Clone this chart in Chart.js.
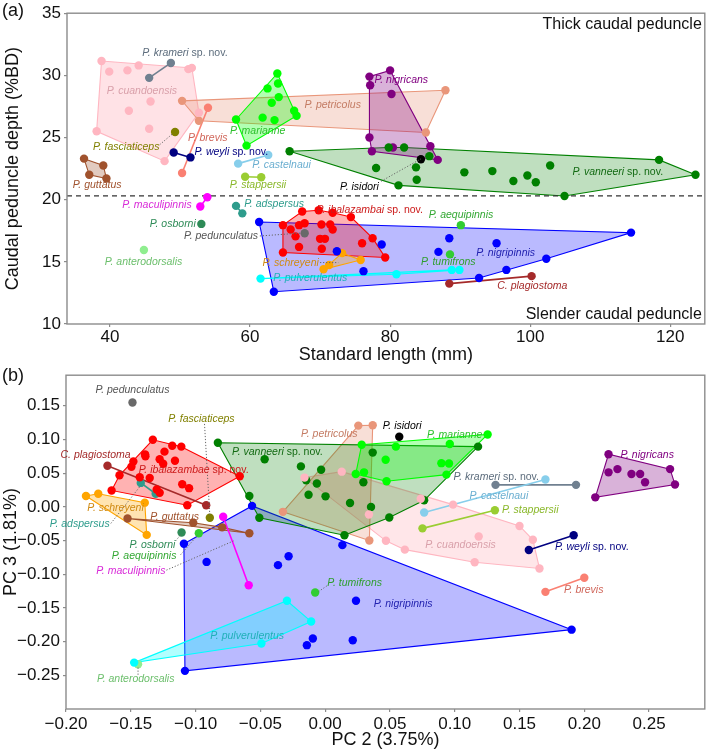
<!DOCTYPE html>
<html>
<head>
<meta charset="utf-8">
<script src="https://cdn.jsdelivr.net/npm/chart.js@4.4.0/dist/chart.umd.min.js"></script>
<style>
  body { margin: 0; background: #fff; width: 709px; height: 751px; position: relative; overflow: hidden; font-family: "Liberation Sans", Arial, sans-serif; }
  .panel { position: absolute; left: 0; width: 709px; }
  #wrapA { top: 0; height: 368px; }
  #wrapB { top: 362px; height: 389px; }
  .tag { position: absolute; left: 2px; font-size: 18px; color: #111; }
</style>
</head>
<body>
<div class="panel" id="wrapA"><canvas id="chartA"></canvas></div>
<div class="panel" id="wrapB"><canvas id="chartB"></canvas></div>
<div class="tag" style="top:0px">(a)</div>
<div class="tag" style="top:365px">(b)</div>
<script>
  // ---- panel (a): standard length (mm) vs caudal peduncle depth (%BD)
  const SL_TICKS = [40, 60, 80, 100, 120];
  const DEPTH_TICKS = [10, 15, 20, 25, 30, 35];
  const DEPTH_SPLIT = 20.3;

  const A_krameri = [[45.6, 29.8], [48.7, 31.0]];
  const A_cuandoensis = [[38.8, 31.15], [39.9, 30.3], [42.5, 30.4], [44.1, 30.8], [51.2, 30.5], [51.7, 30.6], [45.8, 27.9], [42.7, 27.15], [52.7, 27.0], [45.6, 25.7], [38.1, 25.5], [47.8, 23.1]];
  const A_petricolus = [[50.3, 27.95], [52.7, 26.35], [87.9, 28.8], [85.1, 25.4]];
  const A_brevis = [[54.0, 27.4], [50.3, 22.15]];
  const A_fasciaticeps = [[49.3, 25.45]];
  const A_weyli = [[49.1, 23.8], [51.5, 23.4]];
  const A_castelnaui = [[58.3, 22.9], [62.6, 23.6]];
  const A_marianne = [[63.9, 30.15], [62.5, 28.95], [64.0, 29.35], [64.1, 28.25], [63.1, 27.8], [61.8, 26.6], [63.5, 26.4], [66.3, 27.15], [66.65, 26.75], [58.0, 26.45], [59.5, 24.35]];
  const A_nigricans = [[80.0, 30.4], [77.05, 29.9], [77.15, 29.2], [80.2, 28.5], [77.05, 25.0], [77.4, 23.9], [80.4, 24.2], [85.75, 24.3], [86.8, 23.2]];
  const A_isidori = [[84.4, 23.25]];
  const A_vanneeri = [[65.65, 23.9], [79.8, 24.2], [82.0, 24.2], [85.6, 23.5], [78.0, 22.55], [83.7, 22.6], [83.8, 21.6], [81.2, 21.15], [90.6, 22.2], [94.6, 22.3], [97.6, 21.5], [99.6, 21.95], [100.8, 21.4], [102.85, 22.75], [104.9, 20.3], [118.4, 23.2], [123.6, 22.0]];
  const A_guttatus = [[36.3, 23.3], [39.05, 22.75], [37.05, 22.0], [39.5, 21.7]];
  const A_stappersii = [[59.3, 21.85], [61.6, 21.8]];
  const A_maculipinnis = [[53.9, 20.2], [52.9, 19.45]];
  const A_adspersus = [[58.0, 19.5], [58.9, 18.9]];
  const A_osborni = [[53.05, 18.05]];
  const A_pedunculatus = [[67.8, 17.3]];
  const A_anterodorsalis = [[44.85, 15.95]];
  const A_ibalazambai = [[67.45, 19.05], [69.8, 19.15], [71.8, 18.95], [74.4, 18.6], [64.7, 17.95], [65.8, 17.6], [67.0, 17.95], [67.8, 18.1], [70.2, 18.0], [71.45, 18.0], [71.8, 17.6], [66.5, 17.05], [70.0, 16.85], [70.7, 16.85], [67.0, 16.2], [70.25, 16.05], [64.7, 15.75], [76.0, 16.5], [77.5, 16.9], [79.3, 15.35]];
  const A_nigripinnis = [[61.3, 18.2], [63.4, 12.6], [72.4, 15.85], [76.2, 14.25], [78.8, 16.4], [88.45, 16.9], [86.9, 15.8], [95.2, 16.5], [92.7, 13.7], [96.6, 14.35], [102.3, 15.25], [114.4, 17.35]];
  const A_aequipinnis = [[90.1, 17.95]];
  const A_tumifrons = [[88.55, 15.6]];
  const A_pulverulentus = [[61.5, 13.65], [80.9, 14.0], [88.8, 14.35], [89.9, 14.35]];
  const A_schreyeni = [[70.5, 14.4], [71.3, 14.75], [73.15, 15.7], [75.8, 15.15]];
  const A_plagiostoma = [[88.45, 13.25], [100.2, 13.85]];

  // ---- panel (b): PC 2 vs PC 3
  const PC2_TICKS = [-0.20, -0.15, -0.10, -0.05, 0.00, 0.05, 0.10, 0.15, 0.20, 0.25];
  const PC3_TICKS = [-0.25, -0.20, -0.15, -0.10, -0.05, 0.00, 0.05, 0.10, 0.15];

  const B_pedunculatus = [[-0.1487, 0.155]];
  const B_fasciaticeps = [[-0.089, -0.016]];
  const B_plagiostoma = [[-0.168, 0.061], [-0.0918, 0.0025]];
  const B_ibalazambae = [[-0.133, 0.0996], [-0.118, 0.0908], [-0.111, 0.0894], [-0.139, 0.078], [-0.124, 0.082], [-0.148, 0.0674], [-0.1387, 0.0752], [-0.1277, 0.0708], [-0.1159, 0.0684], [-0.125, 0.064], [-0.1495, 0.0596], [-0.1587, 0.0469], [-0.1431, 0.044], [-0.1354, 0.043], [-0.1103, 0.0337], [-0.105, 0.0278], [-0.1648, 0.0244], [-0.13, 0.0259], [-0.1277, 0.021], [-0.1064, 0.0025], [-0.0659, 0.0454]];
  const B_adspersus = [[-0.1423, 0.0356], [-0.1308, 0.0195]];
  const B_schreyeni = [[-0.1846, 0.0161], [-0.1751, 0.0195], [-0.1392, 0.0063], [-0.1377, -0.0415]];
  const B_guttatus = [[-0.1525, -0.0171], [-0.1018, -0.0234], [-0.0795, -0.0303], [-0.0585, -0.039]];
  const B_osborni = [[-0.1108, -0.038]];
  const B_aequipinnis = [[-0.0975, -0.039]];
  const B_maculipinnis = [[-0.0787, -0.0147], [-0.059, -0.1162]];
  const B_vanneeri = [[-0.0828, 0.0952], [-0.0585, 0.0161], [-0.0467, 0.0708], [-0.0187, 0.0601], [-0.0031, 0.0552], [-0.0146, 0.0396], [-0.0064, 0.0347], [-0.0128, 0.018], [0.0003, 0.0157], [-0.0508, -0.0161], [0.0192, 0.0059], [0.0354, 0.0], [0.0295, 0.0366], [0.0367, 0.0806], [0.0495, -0.0157], [0.0149, -0.042], [0.0764, 0.0098], [0.118, 0.0894]];
  const B_petricolus = [[0.0256, 0.1206], [0.0367, 0.1211], [-0.0326, -0.0073], [0.0341, -0.0498]];
  const B_isidori = [[0.0572, 0.104]];
  const B_marianne = [[0.0282, 0.0923], [0.0546, 0.0894], [0.0962, 0.0933], [0.0467, 0.0699], [0.0897, 0.0649], [0.0956, 0.0645], [0.0236, 0.0488], [0.03, 0.0513], [0.0936, 0.0479], [0.0474, 0.0381], [0.1254, 0.1074]];
  const B_cuandoensis = [[-0.0159, 0.0435], [0.0128, 0.0523], [0.0338, -0.0113], [0.0469, -0.0503], [0.0615, -0.0634], [0.0738, 0.0122], [0.0987, 0.0034], [0.1154, -0.082], [0.15, -0.0283], [0.1603, -0.0488], [0.1185, -0.044], [0.1654, -0.0913]];
  const B_krameri = [[0.1315, 0.0327], [0.1936, 0.0327]];
  const B_castelnaui = [[0.0764, -0.0083], [0.17, 0.0406]];
  const B_stappersii = [[0.0751, -0.0318], [0.131, -0.0049]];
  const B_nigricans = [[0.2187, 0.0781], [0.2256, 0.0561], [0.2187, 0.0513], [0.2364, 0.0488], [0.2431, 0.0488], [0.2469, 0.0366], [0.2662, 0.0561], [0.27, 0.0332], [0.2085, 0.0142]];
  const B_weyli = [[0.1572, -0.064], [0.1918, -0.042]];
  const B_brevis = [[0.17, -0.126], [0.2, -0.105]];
  const B_nigripinnis = [[-0.0564, 0.0015], [-0.109, -0.0547], [-0.0915, -0.0816], [0.0133, -0.0567], [-0.0282, -0.0733], [-0.0364, -0.0864], [0.0238, -0.1392], [-0.0095, -0.1953], [-0.0141, -0.2051], [0.0213, -0.1978], [-0.1082, -0.2432], [0.1902, -0.1821]];
  const B_tumifrons = [[-0.0077, -0.127]];
  const B_pulverulentus = [[-0.0295, -0.1392], [-0.0108, -0.17], [-0.0492, -0.2027], [-0.1474, -0.231]];
  const B_anterodorsalis = [[-0.1444, -0.2334]];

  const FONT = '"Liberation Sans", Arial, Helvetica, sans-serif';
  const LABEL_PX = 10.5;
  const NOV = " sp. nov.";

  // species styling + label anchors (data units)
  const groupsA = [
    { pts: A_cuandoensis, c: "#ffb6c1", lc: "#d9a0aa", name: "P. cuandoensis", at: [44.56, 28.7], a: 0.4 },
    { pts: A_petricolus, c: "#e9967a", lc: "#c47c64", name: "P. petricolus", at: [71.8, 27.6] },
    { pts: A_marianne, c: "#00ff00", lc: "#2dc02d", name: "P. marianne", at: [61.1, 25.55] },
    { pts: A_vanneeri, c: "#008000", lc: "#126a12", name: "P. vanneeri", suf: NOV, at: [112.5, 22.2], a: 0.25 },
    { pts: A_nigricans, c: "#800080", lc: "#800080", name: "P. nigricans", at: [81.6, 29.6] },
    { pts: A_nigripinnis, c: "#0000ff", lc: "#2222b0", name: "P. nigripinnis", at: [96.5, 15.7], a: 0.27 },
    { pts: A_ibalazambai, c: "#ff0000", lc: "#cc1a1a", name: "P. ibalazambai", suf: NOV, at: [77.1, 19.2] },
    { pts: A_pulverulentus, c: "#00ffff", lc: "#20b0b8", name: "P. pulverulentus", at: [68.6, 13.66] },
    { pts: A_schreyeni, c: "#ffa500", lc: "#cf8a12", name: "P. schreyeni", at: [65.8, 14.94], lead: [70.0, 14.94, 72.6, 14.94] },
    { pts: A_guttatus, c: "#a0522d", lc: "#a0522d", name: "P. guttatus", at: [38.17, 21.14] },
    { pts: A_krameri, c: "#708090", lc: "#5d6d7d", name: "P. krameri", suf: NOV, at: [50.7, 31.82] },
    { pts: A_brevis, c: "#fa8072", lc: "#d0665a", name: "P. brevis", at: [53.97, 24.96] },
    { pts: A_fasciaticeps, c: "#808000", lc: "#808000", name: "P. fasciaticeps", at: [42.33, 24.26], lead: [47.1, 24.42, 48.9, 25.28] },
    { pts: A_weyli, c: "#000080", lc: "#000080", name: "P. weyli", suf: NOV, at: [57.33, 23.86] },
    { pts: A_castelnaui, c: "#87ceeb", lc: "#6aaed0", name: "P. castelnaui", at: [64.5, 22.77] },
    { pts: A_isidori, c: "#000000", lc: "#000000", name: "P. isidori", at: [75.63, 21.0], lead: [78.7, 21.48, 84.4, 23.28] },
    { pts: A_stappersii, c: "#9acd32", lc: "#8ab82a", name: "P. stappersii", at: [61.13, 21.14] },
    { pts: A_maculipinnis, c: "#ff00ff", lc: "#d82ad8", name: "P. maculipinnis", at: [46.72, 19.54] },
    { pts: A_adspersus, c: "#2e9c8c", lc: "#2e9c8c", name: "P. adspersus", at: [63.44, 19.67] },
    { pts: A_osborni, c: "#2e8b57", lc: "#2e8b57", name: "P. osborni", at: [48.98, 18.07] },
    { pts: A_pedunculatus, c: "#696969", lc: "#555555", name: "P. pedunculatus", at: [55.86, 17.07], lead: [61.4, 17.08, 67.4, 17.32] },
    { pts: A_anterodorsalis, c: "#90ee90", lc: "#6cbf6c", name: "P. anterodorsalis", at: [44.8, 15.0] },
    { pts: A_aequipinnis, c: "#32cd32", lc: "#33a833", name: "P. aequipinnis", at: [90.12, 18.73] },
    { pts: A_tumifrons, c: "#32cd32", lc: "#2e9e2e", name: "P. tumifrons", at: [88.3, 15.0] },
    { pts: A_plagiostoma, c: "#a52a2a", lc: "#a52a2a", name: "C. plagiostoma", at: [100.3, 13.07] }
  ];

  const groupsB = [
    { pts: B_nigripinnis, c: "#0000ff", lc: "#2222b0", name: "P. nigripinnis", at: [0.0602, -0.144], a: 0.27 },
    { pts: B_cuandoensis, c: "#ffb6c1", lc: "#d9a0aa", name: "P. cuandoensis", at: [0.1045, -0.0571], a: 0.35 },
    { pts: B_petricolus, c: "#e9967a", lc: "#c47c64", name: "P. petricolus", at: [0.0032, 0.1084] },
    { pts: B_vanneeri, c: "#008000", lc: "#126a12", name: "P. vanneeri", suf: NOV, at: [-0.0369, 0.0816], a: 0.25 },
    { pts: B_marianne, c: "#00ff00", lc: "#2dc02d", name: "P. marianne", at: [0.1, 0.1065] },
    { pts: B_ibalazambae, c: "#ff0000", lc: "#cc1a1a", name: "P. ibalazambae", suf: NOV, at: [-0.1015, 0.0552] },
    { pts: B_schreyeni, c: "#ffa500", lc: "#cf8a12", name: "P. schreyeni", at: [-0.1618, -0.0015] },
    { pts: B_guttatus, c: "#a0522d", lc: "#a0522d", name: "P. guttatus", at: [-0.1162, -0.0147] },
    { pts: B_pulverulentus, c: "#00ffff", lc: "#20b0b8", name: "P. pulverulentus", at: [-0.0602, -0.192] },
    { pts: B_nigricans, c: "#800080", lc: "#800080", name: "P. nigricans", at: [0.2485, 0.0767] },
    { pts: B_pedunculatus, c: "#696969", lc: "#555555", name: "P. pedunculatus", at: [-0.1487, 0.1733] },
    { pts: B_fasciaticeps, c: "#808000", lc: "#808000", name: "P. fasciaticeps", at: [-0.0955, 0.1304], lead: [-0.0931, 0.1231, -0.089, -0.0122] },
    { pts: B_plagiostoma, c: "#a52a2a", lc: "#a52a2a", name: "C. plagiostoma", at: [-0.1772, 0.0767] },
    { pts: B_adspersus, c: "#2e9c8c", lc: "#2e9c8c", name: "P. adspersus", at: [-0.1894, -0.0259], lead: [-0.1654, -0.0245, -0.1423, 0.0318] },
    { pts: B_osborni, c: "#2e8b57", lc: "#2e8b57", name: "P. osborni", at: [-0.1333, -0.0561], lead: [-0.1154, -0.0503, -0.1115, -0.0415] },
    { pts: B_aequipinnis, c: "#32cd32", lc: "#33a833", name: "P. aequipinnis", at: [-0.1397, -0.0733], lead: [-0.1115, -0.0708, -0.0987, -0.0425] },
    { pts: B_maculipinnis, c: "#ff00ff", lc: "#d82ad8", name: "P. maculipinnis", at: [-0.15, -0.0952], lead: [-0.1225, -0.0938, -0.0705, -0.0503] },
    { pts: B_isidori, c: "#000000", lc: "#000000", name: "P. isidori", at: [0.0594, 0.1197] },
    { pts: B_krameri, c: "#708090", lc: "#5d6d7d", name: "P. krameri", suf: NOV, at: [0.1321, 0.044] },
    { pts: B_castelnaui, c: "#87ceeb", lc: "#6aaed0", name: "P. castelnaui", at: [0.1341, 0.0157] },
    { pts: B_stappersii, c: "#9acd32", lc: "#8ab82a", name: "P. stappersii", at: [0.1583, -0.0049] },
    { pts: B_weyli, c: "#000080", lc: "#000080", name: "P. weyli", suf: NOV, at: [0.2058, -0.0601] },
    { pts: B_brevis, c: "#fa8072", lc: "#d0665a", name: "P. brevis", at: [0.1995, -0.1235] },
    { pts: B_tumifrons, c: "#32cd32", lc: "#2e9e2e", name: "P. tumifrons", at: [0.0228, -0.1124], lead: [0.0013, -0.1172, -0.0051, -0.1256] },
    { pts: B_anterodorsalis, c: "#90ee90", lc: "#6cbf6c", name: "P. anterodorsalis", at: [-0.1462, -0.2554], lead: [-0.1444, -0.249, -0.1444, -0.2378] }
  ];

  function rgba(hex, a) {
    const n = parseInt(hex.slice(1), 16);
    return `rgba(${(n >> 16) & 255},${(n >> 8) & 255},${n & 255},${a})`;
  }

  function hull(points) {
    const p = points.slice().sort((a, b) => a[0] - b[0] || a[1] - b[1]);
    if (p.length < 3) return p;
    const cross = (o, a, b) => (a[0] - o[0]) * (b[1] - o[1]) - (a[1] - o[1]) * (b[0] - o[0]);
    const lower = [];
    for (const q of p) {
      while (lower.length >= 2 && cross(lower[lower.length - 2], lower[lower.length - 1], q) <= 0) lower.pop();
      lower.push(q);
    }
    const upper = [];
    for (let i = p.length - 1; i >= 0; i--) {
      const q = p[i];
      while (upper.length >= 2 && cross(upper[upper.length - 2], upper[upper.length - 1], q) <= 0) upper.pop();
      upper.push(q);
    }
    upper.pop();
    lower.pop();
    return lower.concat(upper);
  }

  function drawLabel(ctx, x, y, g) {
    const it = `italic ${LABEL_PX}px ${FONT}`;
    const up = `${LABEL_PX}px ${FONT}`;
    ctx.font = it;
    const w1 = ctx.measureText(g.name).width;
    ctx.font = up;
    const w2 = g.suf ? ctx.measureText(g.suf).width : 0;
    const sx = x - (w1 + w2) / 2;
    ctx.textBaseline = "middle";
    ctx.textAlign = "left";
    ctx.fillStyle = g.lc;
    ctx.font = it;
    ctx.fillText(g.name, sx, y);
    if (g.suf) {
      ctx.font = up;
      ctx.fillText(g.suf, sx + w1, y);
    }
  }

  function makeDecor(groups, split, notes) {
    return {
      id: "decor",
      beforeDatasetsDraw(chart) {
        const { ctx, chartArea: ca, scales: { x, y } } = chart;
        ctx.save();
        groups.forEach((g) => {
          if (g.pts.length < 2) return;
          const px = hull(g.pts.map(([a, b]) => [x.getPixelForValue(a), y.getPixelForValue(b)]));
          ctx.beginPath();
          px.forEach(([a, b], i) => (i ? ctx.lineTo(a, b) : ctx.moveTo(a, b)));
          if (px.length > 2) {
            ctx.closePath();
            ctx.fillStyle = rgba(g.c, g.a || 0.3);
            ctx.fill();
          }
          ctx.strokeStyle = g.c;
          ctx.lineWidth = px.length > 2 ? 1.1 : 1.6;
          ctx.stroke();
        });
        if (split != null) {
          const yy = y.getPixelForValue(split);
          ctx.beginPath();
          ctx.setLineDash([5, 4]);
          ctx.moveTo(ca.left, yy);
          ctx.lineTo(ca.right, yy);
          ctx.strokeStyle = "#333";
          ctx.lineWidth = 1.3;
          ctx.stroke();
          ctx.setLineDash([]);
        }
        ctx.strokeStyle = "#8c8c8c";
        ctx.lineWidth = 1.4;
        ctx.strokeRect(ca.left, ca.top, ca.right - ca.left, ca.bottom - ca.top);
        ctx.restore();
      },
      afterDatasetsDraw(chart) {
        const { ctx, chartArea: ca, scales: { x, y } } = chart;
        ctx.save();
        groups.forEach((g) => {
          if (!g.lead) return;
          const [x1, y1, x2, y2] = g.lead;
          ctx.beginPath();
          ctx.setLineDash([1.2, 1.8]);
          ctx.moveTo(x.getPixelForValue(x1), y.getPixelForValue(y1));
          ctx.lineTo(x.getPixelForValue(x2), y.getPixelForValue(y2));
          ctx.strokeStyle = "#666";
          ctx.lineWidth = 1;
          ctx.stroke();
          ctx.setLineDash([]);
        });
        groups.forEach((g) => drawLabel(ctx, x.getPixelForValue(g.at[0]), y.getPixelForValue(g.at[1]), g));
        if (notes) {
          ctx.font = `16px ${FONT}`;
          ctx.fillStyle = "#111";
          ctx.textAlign = "right";
          ctx.textBaseline = "middle";
          ctx.fillText(notes[0], ca.right - 3, ca.top + 11);
          ctx.fillText(notes[1], ca.right - 3, ca.bottom - 9);
        }
        ctx.restore();
      }
    };
  }

  const minus = (v, d) => (v < 0 ? "\u2212" : "") + Math.abs(v).toFixed(d);

  function axis(pos, min, max, ticks, title, size, tickGap, titlePad, fmt) {
    const horizontal = pos === "bottom";
    return {
      type: "linear",
      position: pos,
      min,
      max,
      afterBuildTicks: (s) => { s.ticks = ticks.map((v) => ({ value: v })); },
      afterFit: (s) => { if (horizontal) s.height = size; else s.width = size; },
      grid: { drawOnChartArea: false, drawTicks: true, tickLength: 3, color: "#8c8c8c", lineWidth: 1.2 },
      border: { display: false },
      ticks: { autoSkip: false, maxRotation: 0, padding: tickGap, color: "#111", font: { family: FONT, size: 17 }, callback: fmt },
      title: { display: true, text: title, color: "#111", font: { family: FONT, size: 18 }, padding: titlePad }
    };
  }

  function build(id, groups, xAxis, yAxis, pad, split, notes) {
    return new Chart(document.getElementById(id), {
      type: "scatter",
      data: {
        datasets: groups.map((g) => ({
          data: g.pts.map(([x, y]) => ({ x, y })),
          backgroundColor: g.c,
          borderWidth: 0,
          pointRadius: 4.2,
          pointHoverRadius: 4.2
        }))
      },
      options: {
        responsive: true,
        maintainAspectRatio: false,
        animation: false,
        layout: { padding: pad },
        plugins: { legend: { display: false }, tooltip: { enabled: false } },
        scales: { x: xAxis, y: yAxis }
      },
      plugins: [makeDecor(groups, split, notes)]
    });
  }

  build(
    "chartA",
    groupsA,
    axis("bottom", 33.87, 124.93, SL_TICKS, "Standard length (mm)", 44, 0, { top: 0, bottom: 2 }, (v) => String(v)),
    axis("left", 10, 35, DEPTH_TICKS, "Caudal peduncle depth (%BD)", 67, 3, { top: 2, bottom: 0 }, (v) => String(v)),
    { left: 0, right: 3, top: 12, bottom: 0 },
    DEPTH_SPLIT,
    ["Thick caudal peduncle", "Slender caudal peduncle"]
  );

  build(
    "chartB",
    groupsB,
    axis("bottom", -0.2, 0.293, PC2_TICKS, "PC 2 (3.75%)", 42, 2, { top: 0, bottom: 0 }, (v) => minus(v, 2)),
    axis("left", -0.2998, 0.1954, PC3_TICKS, "PC 3 (1.81%)", 66, 3, { top: 0, bottom: 0 }, (v) => minus(v, 2)),
    { left: 0, right: 2, top: 9, bottom: 0 },
    null,
    null
  );
</script>
</body>
</html>
